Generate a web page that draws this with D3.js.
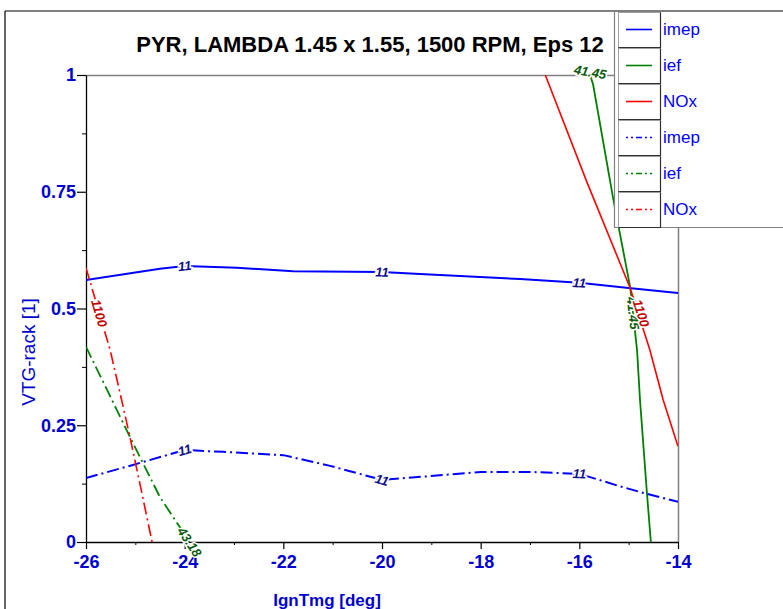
<!DOCTYPE html>
<html>
<head>
<meta charset="utf-8">
<script src="https://cdn.jsdelivr.net/npm/d3@7"></script>
<style>
  html, body { margin: 0; padding: 0; background: #fff; }
  svg { display: block; }
</style>
</head>
<body>
<svg id="chart" width="783" height="609"></svg>
<script>
// ---- data -------------------------------------------------------------
const chartTitle = "PYR, LAMBDA 1.45 x 1.55, 1500 RPM, Eps 12";
const xTicks = [-26, -24, -22, -20, -18, -16, -14];
const yTicks = [0, 0.25, 0.5, 0.75, 1];
const legendNames = ["imep", "ief", "NOx", "imep", "ief", "NOx"];

// contour levels
const imepLevel = 11;
const iefSolidLevel = 41.45;
const noxLevel = 1100;
const iefDashLevel = 43.18;

// imep = 11, first map (solid)
const imepSolidX = [-26, -24.5, -24, -22.94, -21.8, -20, -19.23, -17.2, -16, -15, -14];
const imepSolidY = [0.561, 0.585, 0.591, 0.587, 0.580, 0.578, 0.574, 0.563, 0.555, 0.544, 0.533];
// ief = 41.45, first map (solid)
const iefSolidX = [-15.78, -15.72, -15.32, -14.97, -14.83, -14.77, -14.63, -14.55];
const iefSolidY = [1.0, 0.979, 0.739, 0.546, 0.411, 0.304, 0.105, 0.0];
// NOx = 1100, first map (solid)
const noxSolidX = [-16.69, -15.84, -14.97, -14.57, -14.30, -14.0];
const noxSolidY = [1.0, 0.769, 0.544, 0.411, 0.304, 0.205];

// imep = 11, second map (dash-dot)
const imepDashX = [-26, -25.05, -24, -23.22, -22, -21.05, -20, -19.03, -18, -17, -16, -15.2, -14.63, -14];
const imepDashY = [0.137, 0.165, 0.197, 0.193, 0.186, 0.163, 0.133, 0.141, 0.150, 0.150, 0.146, 0.120, 0.103, 0.086];
// ief = 43.18, second map (dash-dot)
const iefDashX = [-26, -25.57, -25.11, -24.5, -23.9];
const iefDashY = [0.418, 0.325, 0.225, 0.096, 0.0];
// NOx = 1100, second map (dash-dot)
const noxDashX = [-26, -25.51, -25.31, -25.11, -24.91, -24.66];
const noxDashY = [0.587, 0.411, 0.319, 0.225, 0.126, 0.0];

// ---- layout -----------------------------------------------------------
const svg = d3.select("#chart");
const plot = { left: 86, right: 678, top: 75, bottom: 542 };
const legendBox = { left: 614, top: 11, bottom: 227 };
const FONT = "Liberation Sans, Arial, sans-serif";

const x = d3.scaleLinear().domain([-26, -14]).range([plot.left, plot.right]);
const y = d3.scaleLinear().domain([0, 1]).range([plot.bottom, plot.top]);

const BLUE = "#0000ff", GREEN = "#008000", RED = "#ff0000";
const TEXT_BLUE = "#0000d0";
const DASHDOT = "12,4,2,4";

// outer frame
svg.append("line").attr("x1", 5).attr("x2", 5).attr("y1", 11).attr("y2", 609)
  .attr("stroke", "#000").attr("stroke-width", 1.2);
svg.append("line").attr("x1", 5).attr("x2", 783).attr("y1", 11).attr("y2", 11)
  .attr("stroke", "#000").attr("stroke-width", 1.2);

// title
svg.append("text")
  .attr("x", 370).attr("y", 52)
  .attr("text-anchor", "middle")
  .style("font-family", FONT)
  .style("font-weight", "bold")
  .style("font-size", "22px")
  .attr("fill", "#000")
  .text(chartTitle);

// plot frame: top and right in grey
svg.append("line").attr("x1", plot.left).attr("x2", plot.right)
  .attr("y1", plot.top + 0.5).attr("y2", plot.top + 0.5)
  .attr("stroke", "#808080").attr("stroke-width", 1.3);
svg.append("line").attr("x1", plot.right + 0.5).attr("x2", plot.right + 0.5)
  .attr("y1", plot.top).attr("y2", plot.bottom)
  .attr("stroke", "#808080").attr("stroke-width", 1.5);

// ---- axes -------------------------------------------------------------
function styleAxis(g) {
  g.selectAll(".domain").attr("stroke", "#000").attr("stroke-width", 1.3);
  g.selectAll(".tick line").attr("stroke", "#000").attr("stroke-width", 1.2);
  g.selectAll(".tick text")
    .attr("fill", TEXT_BLUE)
    .style("font-family", FONT)
    .style("font-weight", "bold")
    .style("font-size", "18px");
}

// minor ticks
svg.append("g").attr("transform", `translate(0,${plot.bottom})`)
  .call(d3.axisBottom(x).tickValues(d3.range(-25, -14, 2)).tickSize(3).tickSizeOuter(0).tickFormat(""))
  .call(g => g.select(".domain").remove())
  .call(g => g.selectAll(".tick line").attr("stroke", "#000"));
svg.append("g").attr("transform", `translate(${plot.left},0)`)
  .call(d3.axisLeft(y).tickValues([0.125, 0.375, 0.625, 0.875]).tickSize(4).tickSizeOuter(0).tickFormat(""))
  .call(g => g.select(".domain").remove())
  .call(g => g.selectAll(".tick line").attr("stroke", "#000"));

svg.append("g").attr("transform", `translate(0,${plot.bottom})`)
  .call(d3.axisBottom(x).tickValues(xTicks).tickSize(7).tickSizeOuter(0).tickPadding(6)
    .tickFormat(d => String(d)))
  .call(styleAxis);

svg.append("g").attr("transform", `translate(${plot.left},0)`)
  .call(d3.axisLeft(y).tickValues(yTicks).tickSize(9).tickSizeOuter(0).tickPadding(1)
    .tickFormat(d => String(d)))
  .call(styleAxis);

// axis titles
svg.append("text")
  .attr("transform", "translate(35,352) rotate(-90)")
  .attr("text-anchor", "middle")
  .style("font-family", FONT)
  .style("font-size", "19px")
  .attr("fill", TEXT_BLUE)
  .text("VTG-rack [1]");
svg.append("text")
  .attr("x", 327).attr("y", 606)
  .attr("text-anchor", "middle")
  .style("font-family", FONT)
  .style("font-weight", "bold")
  .style("font-size", "17px")
  .attr("fill", TEXT_BLUE)
  .text("IgnTmg [deg]");

// ---- contour lines ----------------------------------------------------
svg.append("clipPath").attr("id", "plotClip")
  .append("rect")
  .attr("x", plot.left).attr("y", plot.top)
  .attr("width", plot.right - plot.left).attr("height", plot.bottom - plot.top);

const lineGen = d3.line().x(d => x(d[0])).y(d => y(d[1]));
const zip = (xs, ys) => xs.map((v, i) => [v, ys[i]]);

const contours = [
  { pts: zip(imepSolidX, imepSolidY), color: BLUE,  dash: null,    w: 2,   level: imepLevel },
  { pts: zip(iefSolidX, iefSolidY),   color: GREEN, dash: null,    w: 1.8, level: iefSolidLevel },
  { pts: zip(noxSolidX, noxSolidY),   color: RED,   dash: null,    w: 1.6, level: noxLevel },
  { pts: zip(imepDashX, imepDashY),   color: BLUE,  dash: DASHDOT, w: 2,   level: imepLevel },
  { pts: zip(iefDashX, iefDashY),     color: GREEN, dash: DASHDOT, w: 1.8, level: iefDashLevel },
  { pts: zip(noxDashX, noxDashY),     color: RED,   dash: DASHDOT, w: 1.6, level: noxLevel }
];

const lineLayer = svg.append("g").attr("clip-path", "url(#plotClip)");
contours.forEach(c => {
  lineLayer.append("path")
    .attr("d", lineGen(c.pts))
    .attr("fill", "none")
    .attr("stroke", c.color)
    .attr("stroke-width", c.w)
    .attr("stroke-dasharray", c.dash);
});

// ---- contour labels ---------------------------------------------------
// each label sits on its contour, found by an x value (along: "x") or a y value (along: "y")
const labelColor = { [BLUE]: "#10108a", [GREEN]: "#0a5a0a", [RED]: "#c00000" };
const labelSpots = [
  { c: 0, along: "x", at: -24 }, { c: 0, along: "x", at: -20 }, { c: 0, along: "x", at: -16 },
  { c: 3, along: "x", at: -24 }, { c: 3, along: "x", at: -20 }, { c: 3, along: "x", at: -16 },
  { c: 1, along: "y", at: 1.0, angle: 10, dy: -3 },
  { c: 1, along: "y", at: 0.49 },
  { c: 2, along: "y", at: 0.49, dx: 3 },
  { c: 5, along: "y", at: 0.49 },
  { c: 4, along: "y", at: 0.0 }
];

function locate(pts, along, at) {
  const key = along === "x" ? 0 : 1;
  for (let i = 0; i < pts.length - 1; i++) {
    const a = pts[i], b = pts[i + 1];
    const lo = Math.min(a[key], b[key]), hi = Math.max(a[key], b[key]);
    if (at >= lo && at <= hi) {
      const t = hi === lo ? 0 : (at - a[key]) / (b[key] - a[key]);
      const px = x(a[0]) + t * (x(b[0]) - x(a[0]));
      const py = y(a[1]) + t * (y(b[1]) - y(a[1]));
      const ang = Math.atan2(y(b[1]) - y(a[1]), x(b[0]) - x(a[0])) * 180 / Math.PI;
      return [px, py, ang];
    }
  }
  return null;
}

const fmtLevel = v => String(v);
labelSpots.forEach(s => {
  const c = contours[s.c];
  const p = locate(c.pts, s.along, s.at);
  if (!p) return;
  const ang = s.angle !== undefined ? s.angle : p[2];
  svg.append("text")
    .attr("transform", `translate(${p[0] + (s.dx || 0)},${p[1] + (s.dy || 0)}) rotate(${ang})`)
    .attr("text-anchor", "middle")
    .attr("dy", "0.35em")
    .style("font-family", FONT)
    .style("font-weight", "bold")
    .style("font-style", "italic")
    .style("font-size", "13px")
    .attr("fill", labelColor[c.color])
    .attr("stroke", "#fff")
    .attr("stroke-width", 3)
    .attr("paint-order", "stroke")
    .text(fmtLevel(c.level));
});

// ---- legend -----------------------------------------------------------
const lg = svg.append("g");
lg.append("rect")
  .attr("x", legendBox.left).attr("y", legendBox.top + 1)
  .attr("width", 783 - legendBox.left).attr("height", legendBox.bottom - legendBox.top - 1)
  .attr("fill", "#fff");
lg.append("line").attr("x1", legendBox.left + 0.5).attr("x2", legendBox.left + 0.5)
  .attr("y1", legendBox.top).attr("y2", legendBox.bottom)
  .attr("stroke", "#808080").attr("stroke-width", 1.2);
lg.append("line").attr("x1", legendBox.left).attr("x2", 783)
  .attr("y1", legendBox.bottom + 0.5).attr("y2", legendBox.bottom + 0.5)
  .attr("stroke", "#808080").attr("stroke-width", 1.2);

const legendStyles = contours.map(c => ({ color: c.color, dash: c.dash ? "2,3,2,3,6,3" : null }));
const cellH = 36, cellTop = 12, cellL = 618, cellR = 660;
legendNames.forEach((name, i) => {
  const y0 = cellTop + i * cellH;
  const g = lg.append("g");
  // sunken cell frame
  g.append("rect").attr("x", cellL + 0.5).attr("y", y0 + 0.5)
    .attr("width", cellR - cellL).attr("height", cellH - 1)
    .attr("fill", "#fff").attr("stroke", "#a0a0a0").attr("stroke-width", 1);
  g.append("polyline")
    .attr("points", `${cellL + 0.5},${y0 + cellH - 0.5} ${cellR + 0.5},${y0 + cellH - 0.5} ${cellR + 0.5},${y0 + 0.5}`)
    .attr("fill", "none").attr("stroke", "#303030").attr("stroke-width", 1.2);
  g.append("line")
    .attr("x1", 626).attr("x2", 652)
    .attr("y1", y0 + 17.5).attr("y2", y0 + 17.5)
    .attr("stroke", legendStyles[i].color)
    .attr("stroke-width", 1.6)
    .attr("stroke-dasharray", legendStyles[i].dash);
  g.append("text")
    .attr("x", 663).attr("y", y0 + 23)
    .style("font-family", FONT)
    .style("font-size", "17px")
    .attr("fill", BLUE)
    .text(name);
});
</script>
</body>
</html>
